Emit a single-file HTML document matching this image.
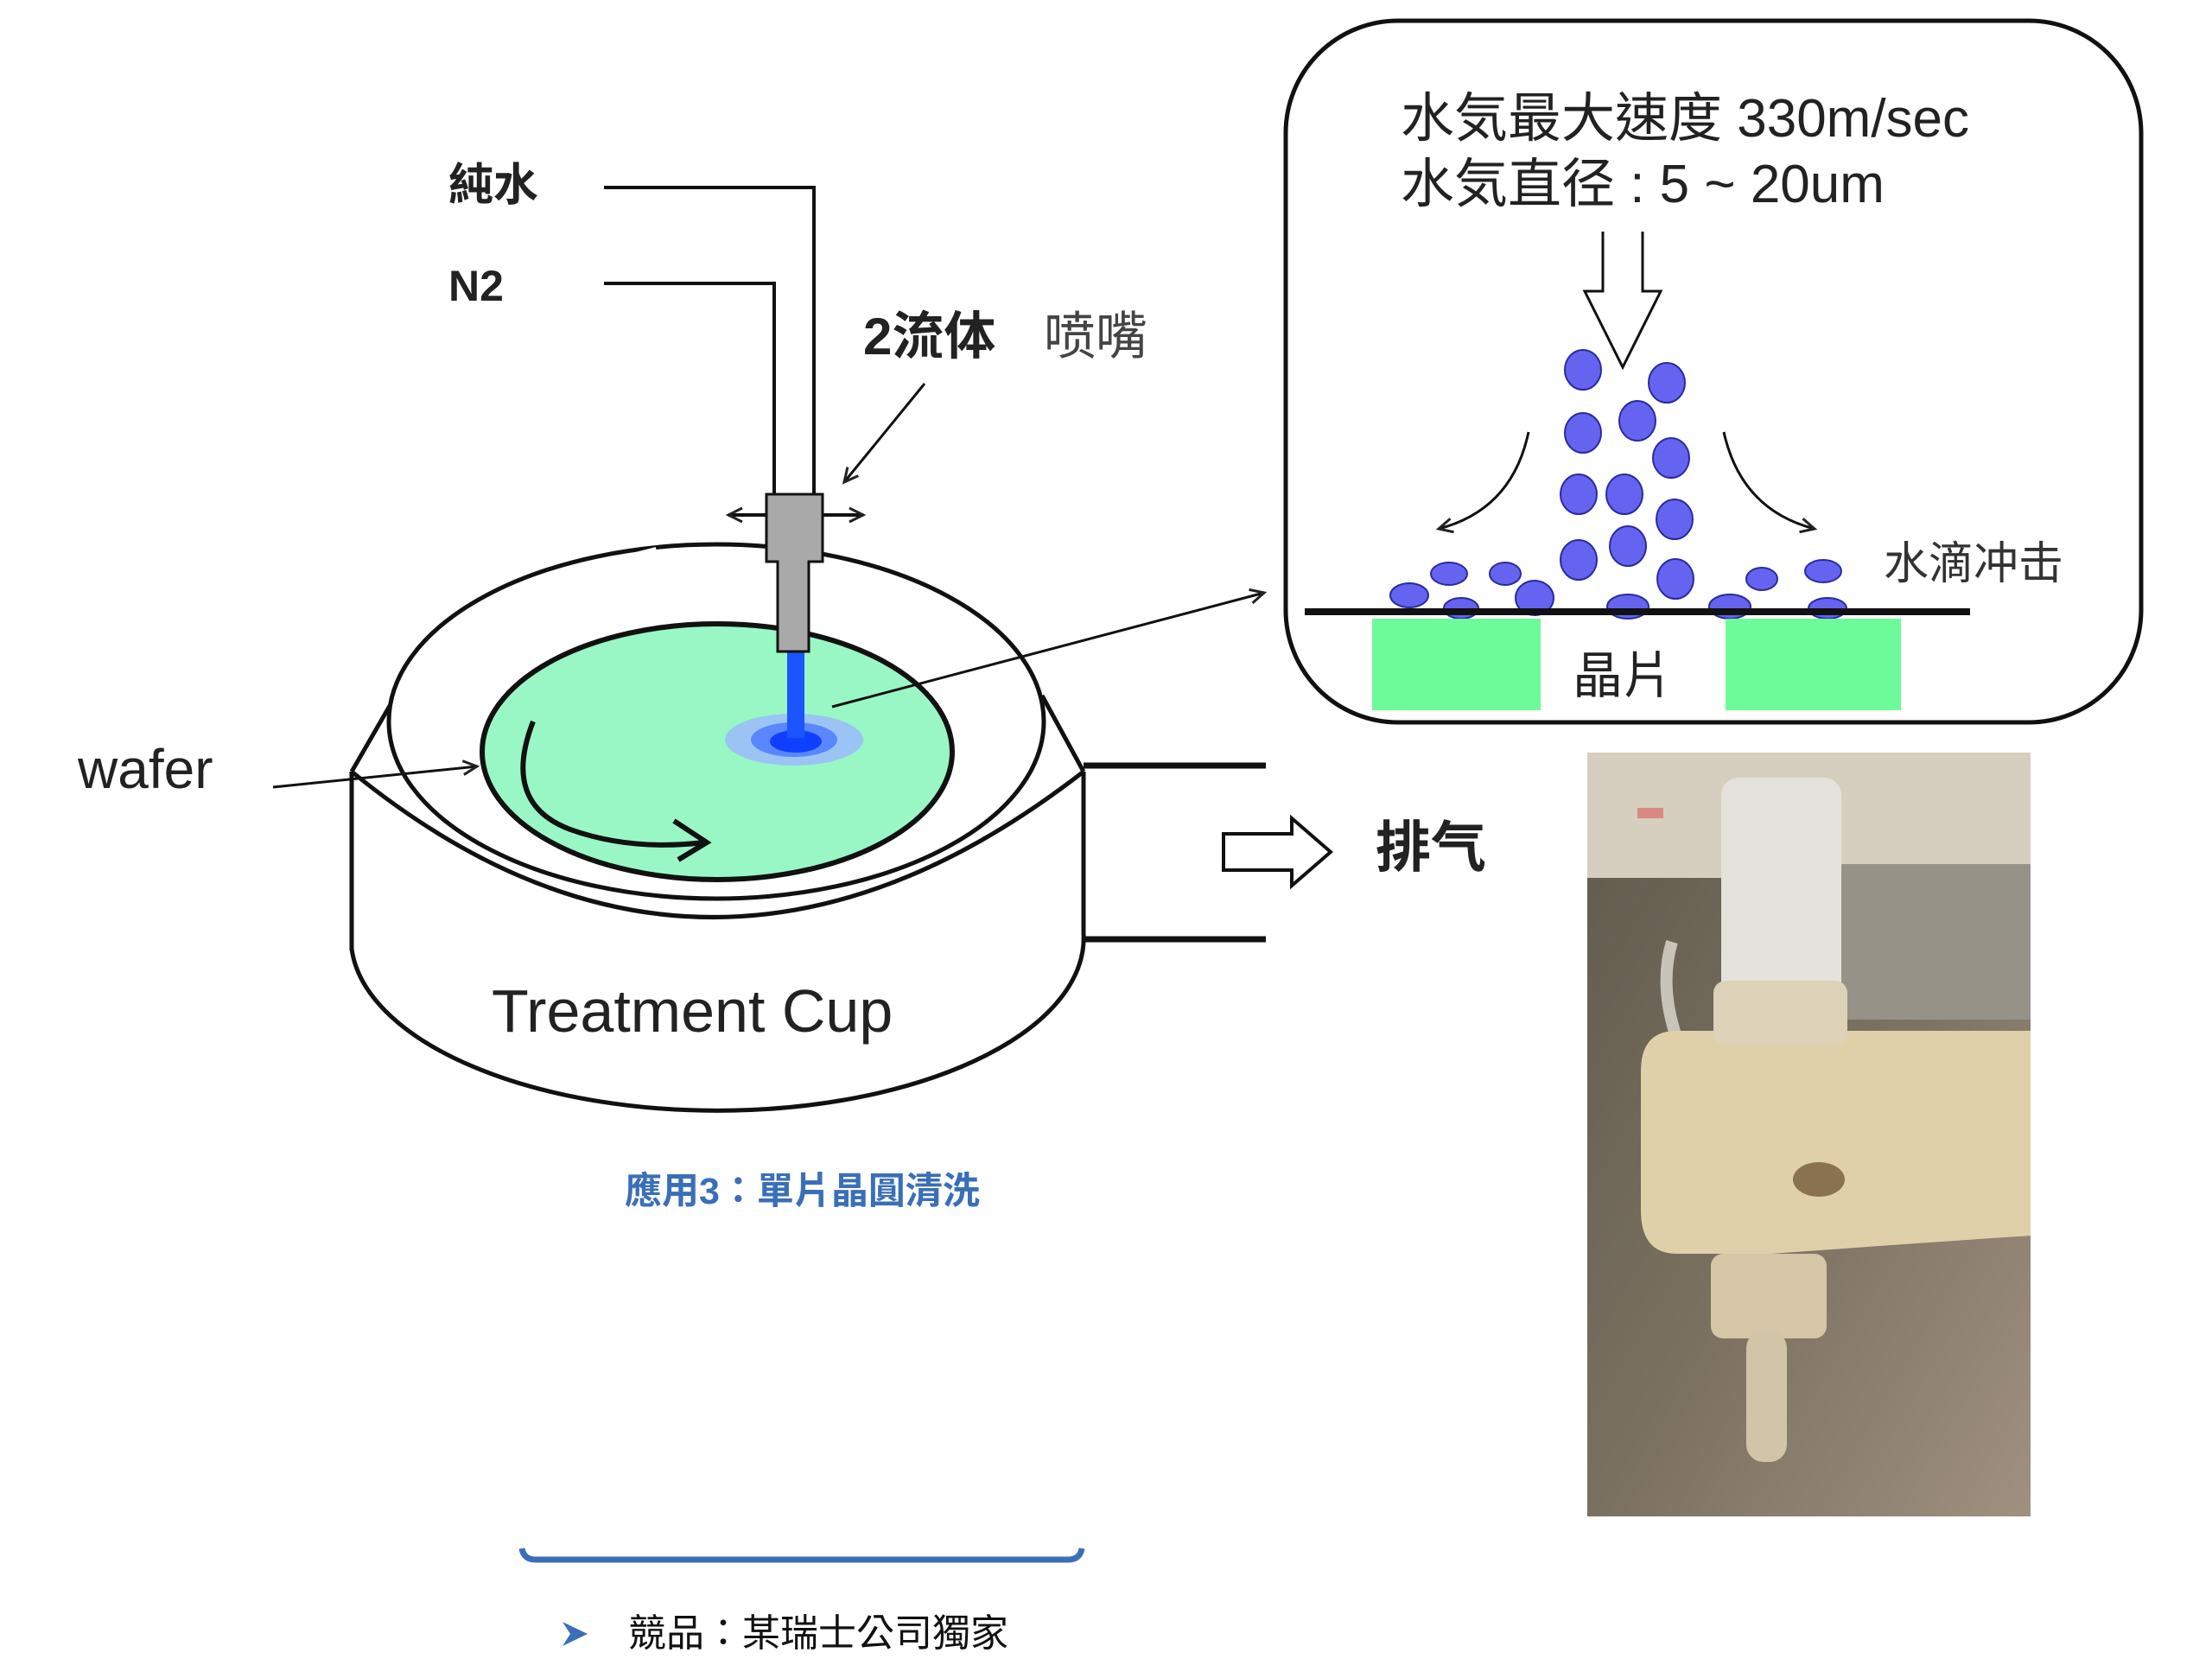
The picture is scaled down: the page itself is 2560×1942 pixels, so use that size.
<!DOCTYPE html>
<html><head><meta charset="utf-8"><style>
html,body{margin:0;padding:0;background:#fff;}
svg{display:block;}
text{font-family:"Liberation Sans","Noto Sans CJK TC",sans-serif;}
</style></head><body>
<svg width="2560" height="1942" viewBox="0 0 2560 1942" xmlns="http://www.w3.org/2000/svg">
<defs>
<marker id="ah" markerWidth="22" markerHeight="22" refX="18" refY="11" orient="auto" markerUnits="userSpaceOnUse" viewBox="0 0 22 22">
<path d="M2,3 L18,11 L2,19" fill="none" stroke="#222" stroke-width="3"/></marker>
<linearGradient id="bg" x1="0" y1="0" x2="1" y2="1">
<stop offset="0" stop-color="#5f5a4c"/><stop offset="0.5" stop-color="#7a7060"/><stop offset="1" stop-color="#a09080"/></linearGradient>
</defs>

<!-- cup body -->
<path d="M407,1098 A424,200 0 0 0 1254,1080" fill="none" stroke="#111" stroke-width="5"/>
<line x1="407" y1="893" x2="407" y2="1100" stroke="#111" stroke-width="5"/>
<line x1="1254" y1="893" x2="1254" y2="1082" stroke="#111" stroke-width="5"/>
<line x1="407" y1="893" x2="455" y2="810" stroke="#111" stroke-width="5"/>
<line x1="1254" y1="893" x2="1206" y2="805" stroke="#111" stroke-width="5"/>
<path d="M407,893 Q820,1230 1254,893" fill="none" stroke="#111" stroke-width="5"/>
<!-- exhaust pipes -->
<line x1="1254" y1="886" x2="1465" y2="886" stroke="#111" stroke-width="7"/>
<line x1="1254" y1="1087" x2="1465" y2="1087" stroke="#111" stroke-width="7"/>
<!-- rim -->
<ellipse cx="829" cy="835" rx="379" ry="205" fill="#fff" stroke="#111" stroke-width="5"/>
<path d="M600,690 L640,675 M660,668 L700,655 M720,648 L760,638" stroke="#fff" stroke-width="10"/>
<!-- wafer -->
<ellipse cx="830" cy="870" rx="272" ry="148" fill="#99f7c6" stroke="#111" stroke-width="6"/>
<!-- rotation arrow -->
<path d="M617,835 Q580,930 660,960 Q730,985 815,975" fill="none" stroke="#111" stroke-width="6"/>
<path d="M780,950 L818,975 L785,995" fill="none" stroke="#111" stroke-width="6"/>
<!-- splash -->
<ellipse cx="919" cy="856" rx="80" ry="30" fill="#9bb6ff" opacity="0.8"/>
<ellipse cx="919" cy="856" rx="50" ry="20" fill="#5a86ff"/>
<ellipse cx="921" cy="858" rx="30" ry="13" fill="#1040ff"/>
<rect x="911" y="754" width="20" height="100" fill="#1a55ff"/>
<!-- pipes -->
<polyline points="699,217 942,217 942,572" fill="none" stroke="#111" stroke-width="4"/>
<polyline points="699,328 896,328 896,572" fill="none" stroke="#111" stroke-width="4"/>
<!-- nozzle -->
<path d="M887,572 H952 V650 H936 V754 H900 V650 H887 Z" fill="#a9a9a9" stroke="#111" stroke-width="3"/>
<line x1="887" y1="596" x2="843" y2="596" stroke="#111" stroke-width="4" marker-end="url(#ah)"/>
<line x1="952" y1="596" x2="999" y2="596" stroke="#111" stroke-width="4" marker-end="url(#ah)"/>
<line x1="1070" y1="444" x2="977" y2="558" stroke="#111" stroke-width="3" marker-end="url(#ah)"/>
<!-- wafer arrow -->
<line x1="316" y1="911" x2="552" y2="887" stroke="#111" stroke-width="3" marker-end="url(#ah)"/>
<!-- link line -->
<line x1="963" y1="818" x2="1463" y2="686" stroke="#111" stroke-width="3" marker-end="url(#ah)"/>
<!-- exhaust arrow -->
<path d="M1416,965 H1495 V947 L1540,986 L1495,1025 V1007 H1416 Z" fill="#fff" stroke="#111" stroke-width="4"/>

<!-- labels -->
<text x="519" y="232" font-size="52" font-weight="bold" fill="#222">純水</text>
<text x="519" y="348" font-size="50" font-weight="bold" fill="#222">N2</text>
<text x="999" y="410" font-size="60" font-weight="bold" fill="#222">2流体</text>
<text x="1208" y="410" font-size="60" fill="#444">喷嘴</text>
<text x="90" y="912" font-size="64" fill="#222">wafer</text>
<text x="569" y="1194" font-size="70" fill="#222">Treatment Cup</text>
<text x="1592" y="1003" font-size="64" font-weight="bold" fill="#222">排气</text>
<text x="723" y="1393" font-size="43" font-weight="bold" fill="#3a6fb8">應用3：單片晶圓清洗</text>
<path d="M604,1792 Q606,1805 620,1805 H1236 Q1250,1805 1252,1792" fill="none" stroke="#3a6fb8" stroke-width="7"/>
<path d="M651,1877 L680,1891 L651,1905 L660,1891 Z" fill="#3a6fb8"/>
<text x="727" y="1905" font-size="44" fill="#111">競品：某瑞士公司獨家</text>

<!-- right box -->
<rect x="1488" y="24" width="990" height="812" rx="130" ry="130" fill="#fff" stroke="#111" stroke-width="5"/>
<text x="1621" y="158" font-size="62" fill="#222">水気最大速度 330m/sec</text>
<text x="1621" y="234" font-size="62" fill="#222">水気直径 : 5 ~ 20um</text>
<path d="M1855,268 V337 H1834 L1878,425 L1922,337 H1901 V268" fill="#fff" stroke="#111" stroke-width="3"/>
<g fill="#6464f0" stroke="#2a2aa0" stroke-width="2">
<ellipse cx="1832" cy="428" rx="21" ry="23"/><ellipse cx="1929" cy="443" rx="21" ry="23"/>
<ellipse cx="1832" cy="501" rx="21" ry="23"/><ellipse cx="1895" cy="487" rx="21" ry="23"/>
<ellipse cx="1934" cy="530" rx="21" ry="23"/><ellipse cx="1827" cy="572" rx="21" ry="23"/>
<ellipse cx="1880" cy="572" rx="21" ry="23"/><ellipse cx="1938" cy="601" rx="21" ry="23"/>
<ellipse cx="1827" cy="648" rx="21" ry="23"/><ellipse cx="1884" cy="632" rx="21" ry="23"/>
<ellipse cx="1939" cy="670" rx="21" ry="23"/>
<ellipse cx="1631" cy="689" rx="22" ry="14"/><ellipse cx="1677" cy="664" rx="21" ry="13"/>
<ellipse cx="1742" cy="664" rx="18" ry="13"/><ellipse cx="1776" cy="692" rx="22" ry="20"/>
<ellipse cx="1691" cy="704" rx="20" ry="12"/><ellipse cx="1884" cy="702" rx="24" ry="14"/>
<ellipse cx="2002" cy="702" rx="24" ry="14"/><ellipse cx="2039" cy="670" rx="18" ry="13"/>
<ellipse cx="2110" cy="661" rx="21" ry="13"/><ellipse cx="2115" cy="704" rx="22" ry="12"/>
</g>
<path d="M1769,500 Q1750,590 1665,612" fill="none" stroke="#111" stroke-width="3" marker-end="url(#ah)"/>
<path d="M1995,500 Q2015,590 2100,612" fill="none" stroke="#111" stroke-width="3" marker-end="url(#ah)"/>
<rect x="1510" y="704" width="770" height="8" fill="#111"/>
<rect x="1588" y="716" width="195" height="106" fill="#6dfb9a"/>
<rect x="1997" y="716" width="203" height="106" fill="#6dfb9a"/>
<text x="1820" y="802" font-size="58" fill="#222">晶片</text>
<text x="2180" y="670" font-size="52" fill="#333">水滴冲击</text>

<!-- photo -->
<rect x="1837" y="871" width="513" height="884" fill="url(#bg)"/>
<rect x="1837" y="871" width="513" height="145" fill="#d6cebe"/>
<rect x="2110" y="1000" width="240" height="180" fill="#979288"/>
<path d="M1935,1090 Q1920,1140 1940,1200" fill="none" stroke="#c8c4ba" stroke-width="14"/>
<path d="M1910,1193 H2350 V1430 Q2200,1440 2050,1451 H1940 Q1899,1451 1899,1400 V1240 Q1899,1193 1940,1193 Z" fill="#e0d0aa"/>
<rect x="1992" y="900" width="139" height="258" rx="20" fill="#e4e2dc"/>
<rect x="1983" y="1135" width="155" height="75" rx="14" fill="#ddd2b8"/>
<ellipse cx="2105" cy="1365" rx="30" ry="20" fill="#8a7250"/>
<rect x="1980" y="1451" width="134" height="98" rx="14" fill="#d4c6a6"/>
<rect x="2021" y="1540" width="47" height="152" rx="20" fill="#d2c4a6"/>
<rect x="1895" y="935" width="30" height="12" fill="#d88a80"/>
</svg>
</body></html>
